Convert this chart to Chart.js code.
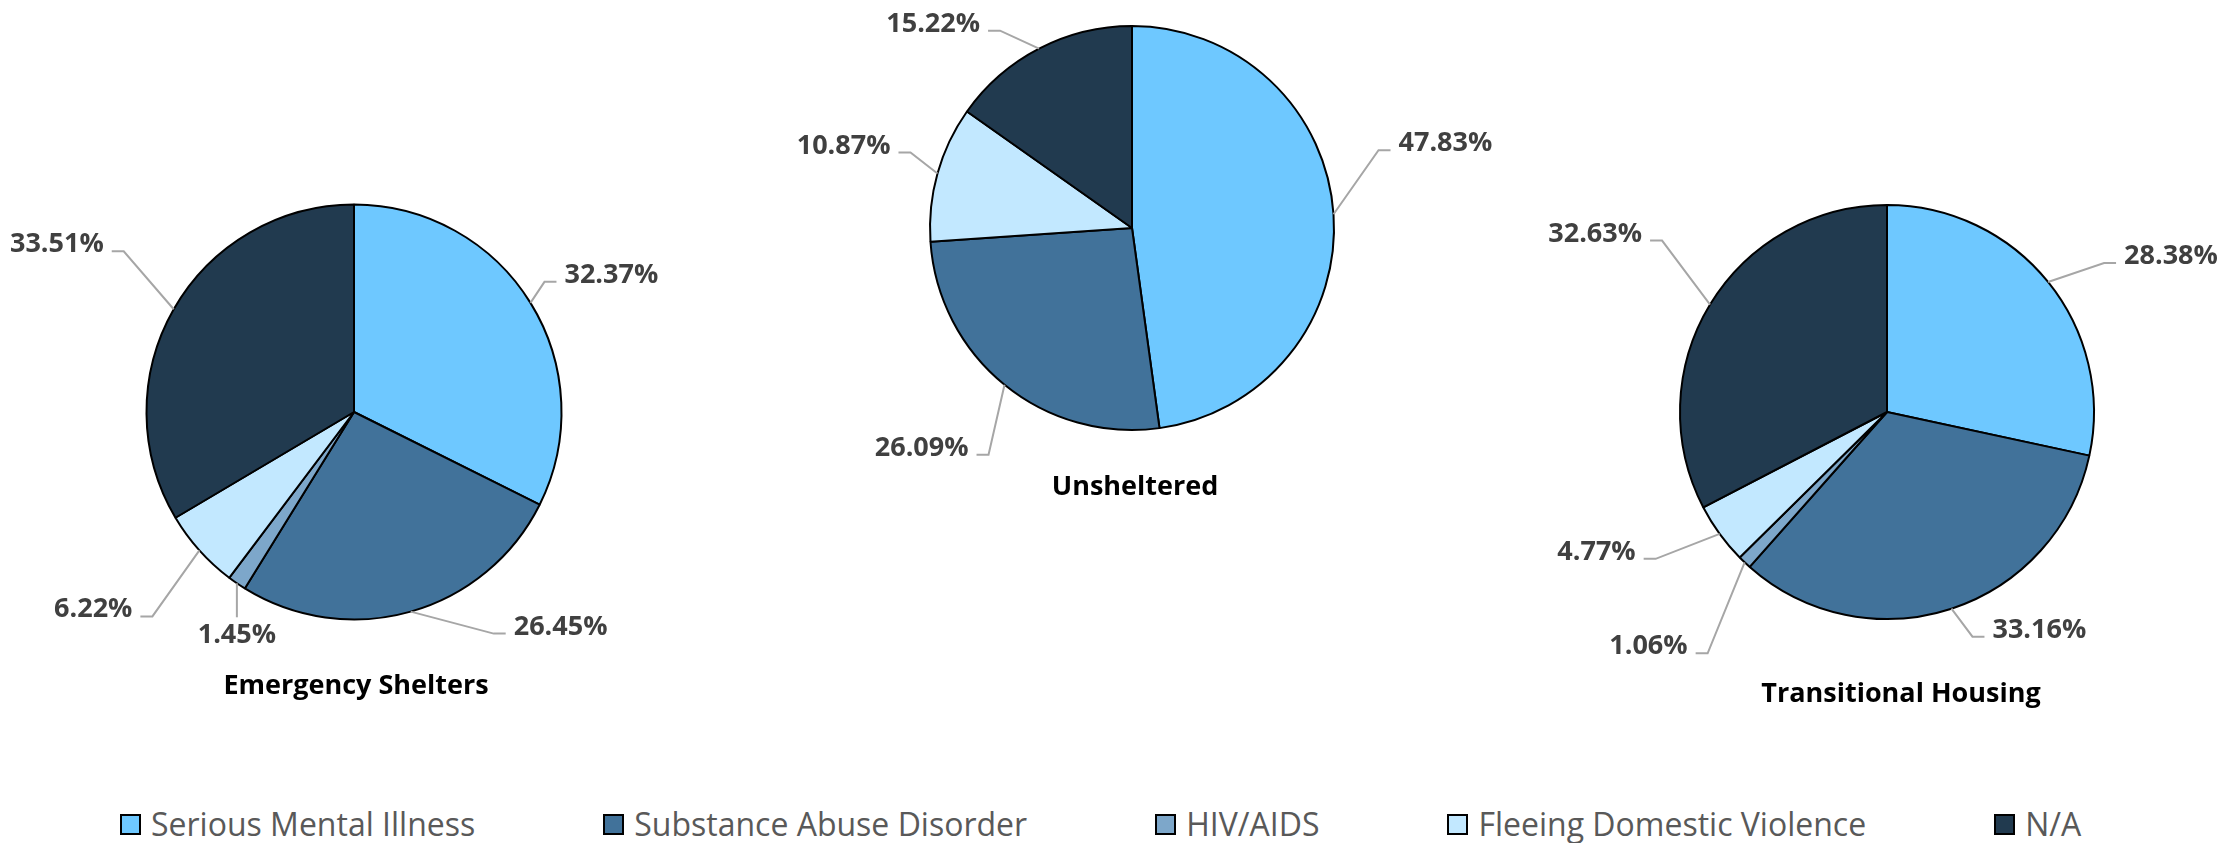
<!DOCTYPE html>
<html>
<head>
<meta charset="utf-8">
<script src="https://cdn.jsdelivr.net/npm/chart.js@4.4.1/dist/chart.umd.min.js"></script>
<style>
  html, body { margin:0; padding:0; background:#ffffff; width:2239px; height:843px; overflow:hidden; font-family:"Open Sans", sans-serif; }
  .box { position:absolute; top:0; height:790px; }
  #legend { position:absolute; left:120px; top:802px; height:44px; display:flex; align-items:center; gap:128px; }
  .item { display:flex; align-items:center; font-size:32px; color:#595959; line-height:44px; white-space:nowrap; }
  .sw { width:21px; height:21px; box-sizing:border-box; border:2px solid #000; margin-right:10px; }
</style>
</head>
<body>
<div class="box" id="b0"><canvas id="c0"></canvas></div>
<div class="box" id="b1"><canvas id="c1"></canvas></div>
<div class="box" id="b2"><canvas id="c2"></canvas></div>
<div id="legend"></div>
<script>
// ---- data ----
const categories = ['Serious Mental Illness', 'Substance Abuse Disorder', 'HIV/AIDS', 'Fleeing Domestic Violence', 'N/A'];
const emergencyShelters   = [32.37, 26.45, 1.45, 6.22, 33.51];
const unsheltered         = [47.83, 26.09, 0, 10.87, 15.22];
const transitionalHousing = [28.38, 33.16, 1.06, 4.77, 32.63];
const chartTitles = ['Emergency Shelters', 'Unsheltered', 'Transitional Housing'];
const seriesList = [emergencyShelters, unsheltered, transitionalHousing];

// ---- style ----
const colors = ['#6EC8FF', '#41729A', '#7DA7CA', '#C2E8FF', '#213A4F'];

// ---- layout (positions, not data) ----
const layouts = [
  { left: 0,    width: 745, cx: 354,  cy: 412, r: 207.5, title: { dx: 2,  dy: 74 },
    labels: [[14, -21, 'R'], [83, 22, 'R'], [0, 34, 'B'], [-47, 66, 'L'], [-50, -58, 'L']] },
  { left: 745,  width: 755, cx: 1132, cy: 228, r: 202,   title: { dx: 3,  dy: 65 },
    labels: [[45, -64, 'R'], [-16, 70, 'L'], null, [-27, -21, 'L'], [-39, -18, 'L']] },
  { left: 1500, width: 739, cx: 1887, cy: 412, r: 207,   title: { dx: 14, dy: 83 },
    labels: [[56, -19, 'R'], [21, 28, 'R'], [-37, 91, 'L'], [-64, 25, 'L'], [-48, -64, 'L']] }
];
const BOX_H = 790;

const leaderPlugin = {
  id: 'leaders',
  afterDatasetsDraw(chart, args, opts) {
    const ctx = chart.ctx;
    const meta = chart.getDatasetMeta(0);
    const ds = chart.data.datasets[0];
    ctx.save();
    let cxp = 0, cyp = 0, rp = 0;
    meta.data.forEach((arc, i) => {
      const p = arc.getProps(['x', 'y', 'startAngle', 'endAngle', 'outerRadius'], true);
      cxp = p.x; cyp = p.y; rp = p.outerRadius;
      const v = ds.data[i];
      const spec = opts.labels[i];
      if (!v || !spec) return;
      const mid = (p.startAngle + p.endAngle) / 2;
      const ex = p.x + p.outerRadius * Math.cos(mid);
      const ey = p.y + p.outerRadius * Math.sin(mid);
      const [dx, dy, side] = spec;
      const bx = ex + dx, by = ey + dy;
      ctx.strokeStyle = '#A6A6A6';
      ctx.lineWidth = 2;
      ctx.beginPath();
      ctx.moveTo(ex, ey);
      ctx.lineTo(bx, by);
      let tx = bx, align = 'center';
      if (side === 'R') { ctx.lineTo(bx + 12, by); tx = bx + 20; align = 'left'; }
      else if (side === 'L') { ctx.lineTo(bx - 12, by); tx = bx - 20; align = 'right'; }
      ctx.stroke();
      const label = v.toFixed(2) + '%';
      ctx.fillStyle = '#404040';
      ctx.font = 'bold 27px "Open Sans"';
      ctx.textBaseline = 'alphabetic';
      ctx.textAlign = align;
      if (side === 'B') ctx.fillText(label, bx, by + 26);
      else ctx.fillText(label, tx, by + 1);
    });
    // chart title below the pie
    ctx.fillStyle = '#000000';
    ctx.font = 'bold 27px "Open Sans"';
    ctx.textAlign = 'center';
    ctx.textBaseline = 'alphabetic';
    ctx.fillText(opts.title, cxp + opts.titlePos.dx, cyp + rp + opts.titlePos.dy);
    ctx.restore();
  }
};

seriesList.forEach((values, k) => {
  const L = layouts[k];
  const box = document.getElementById('b' + k);
  box.style.left = L.left + 'px';
  box.style.width = L.width + 'px';
  const half = L.r + 1;
  const lx = L.cx - L.left;
  new Chart(document.getElementById('c' + k), {
    type: 'pie',
    data: {
      labels: categories,
      datasets: [{
        data: values,
        backgroundColor: colors,
        borderColor: '#000000',
        borderWidth: 2
      }]
    },
    options: {
      responsive: true,
      maintainAspectRatio: false,
      animation: false,
      events: [],
      layout: { padding: { left: lx - half, right: L.width - lx - half, top: L.cy - half, bottom: BOX_H - L.cy - half } },
      plugins: {
        legend: { display: false },
        tooltip: { enabled: false },
        title: { display: false },
        leaders: { labels: L.labels, title: chartTitles[k], titlePos: L.title }
      }
    },
    plugins: [leaderPlugin]
  });
});

// legend
const legend = document.getElementById('legend');
categories.forEach((c, i) => {
  const it = document.createElement('div');
  it.className = 'item';
  const sw = document.createElement('span');
  sw.className = 'sw';
  sw.style.background = colors[i];
  const t = document.createElement('span');
  t.textContent = c;
  it.appendChild(sw); it.appendChild(t);
  legend.appendChild(it);
});
</script>
</body>
</html>
